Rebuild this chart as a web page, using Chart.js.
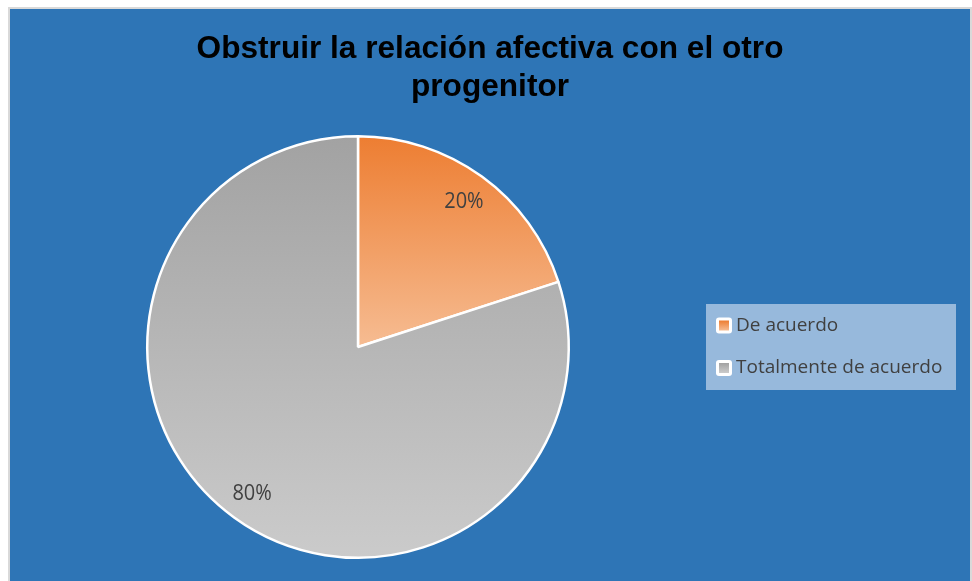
<!DOCTYPE html>
<html><head><meta charset="utf-8">
<script src="https://cdn.jsdelivr.net/npm/chart.js@4.4.0/dist/chart.umd.min.js"></script>
<style>html,body{margin:0;padding:0;background:#fff}#c{display:block}</style>
</head><body>
<canvas id="c" width="972" height="581"></canvas>
<script>
const categories = ["De acuerdo", "Totalmente de acuerdo"];
const values = [20, 80];
const valueLabels = ["20%", "80%"];
const titleLines = ["Obstruir la relación afectiva con el otro", "progenitor"];

const gradStops = [["#ED7D31", "#F6BC92"], ["#A2A2A2", "#CBCBCB"]];

function sliceFill(ctx) {
  const chart = ctx.chart;
  const a = chart.chartArea;
  if (!a) return gradStops[ctx.dataIndex][0];
  const c = chart.ctx;
  const cy = (a.top + a.bottom) / 2;
  let g;
  if (ctx.dataIndex === 0) {
    g = c.createLinearGradient(0, a.top, 0, cy);
  } else {
    g = c.createLinearGradient(0, a.top, 0, a.bottom);
  }
  g.addColorStop(0, gradStops[ctx.dataIndex][0]);
  g.addColorStop(1, gradStops[ctx.dataIndex][1]);
  return g;
}

function stretchedText(c, text, x, y, sx, sy) {
  c.save();
  c.translate(x, y);
  c.scale(sx, sy);
  c.fillText(text, 0, 0);
  c.restore();
}

const bgPlugin = {
  id: 'bg',
  beforeDraw(chart) {
    const c = chart.ctx;
    c.save();
    c.fillStyle = '#ffffff';
    c.fillRect(0, 0, chart.width, chart.height);
    c.fillStyle = '#D9D9D9';
    c.fillRect(8, 7, 964, 580);
    c.fillStyle = '#2E75B6';
    c.fillRect(10, 9, 960, 580);
    // title
    c.fillStyle = '#000000';
    c.font = 'bold 31px "Liberation Sans", Arial, sans-serif';
    c.textAlign = 'center';
    c.textBaseline = 'alphabetic';
    stretchedText(c, titleLines[0], 490, 58, 1.02, 1.0);
    stretchedText(c, titleLines[1], 490, 96, 1.02, 1.0);
    c.restore();
  },
  afterDatasetsDraw(chart) {
    const c = chart.ctx;
    const meta = chart.getDatasetMeta(0);
    c.save();
    c.fillStyle = '#404040';
    c.font = '20px "Open Sans", "Noto Sans", sans-serif';
    c.textAlign = 'center';
    c.textBaseline = 'middle';
    meta.data.forEach((arc, i) => {
      const p = arc.getProps(['x', 'y', 'startAngle', 'endAngle', 'outerRadius'], true);
      const mid = (p.startAngle + p.endAngle) / 2;
      const r = p.outerRadius * 0.855;
      stretchedText(c, valueLabels[i], p.x + Math.cos(mid) * r, p.y + Math.sin(mid) * r + 1, 1.0, 1.1);
    });
    // legend box
    c.fillStyle = '#97B9DC';
    c.fillRect(706, 304, 250, 86);
    c.font = '19px "Open Sans", "Noto Sans", sans-serif';
    c.textAlign = 'left';
    categories.forEach((name, i) => {
      const y = 325.5 + i * 42.5;
      c.fillStyle = '#ffffff';
      c.beginPath();
      c.roundRect(716, y - 8, 16, 16, 3);
      c.fill();
      const g = c.createLinearGradient(0, y - 5, 0, y + 5);
      g.addColorStop(0, gradStops[i][0]);
      g.addColorStop(1, gradStops[i][1]);
      c.fillStyle = g;
      c.fillRect(719, y - 5, 10, 10);
      c.fillStyle = '#404040';
      c.fillText(name, 736, y);
    });
    c.restore();
  }
};

new Chart(document.getElementById('c'), {
  type: 'pie',
  data: {
    labels: categories,
    datasets: [{
      data: values,
      backgroundColor: sliceFill,
      borderColor: '#ffffff',
      borderWidth: 2.5,
      hoverOffset: 0
    }]
  },
  options: {
    responsive: false,
    animation: false,
    events: [],
    layout: { padding: { left: 146, right: 402, top: 135, bottom: 22 } },
    plugins: {
      legend: { display: false },
      tooltip: { enabled: false },
      title: { display: false }
    }
  },
  plugins: [bgPlugin]
});
</script>
</body></html>
